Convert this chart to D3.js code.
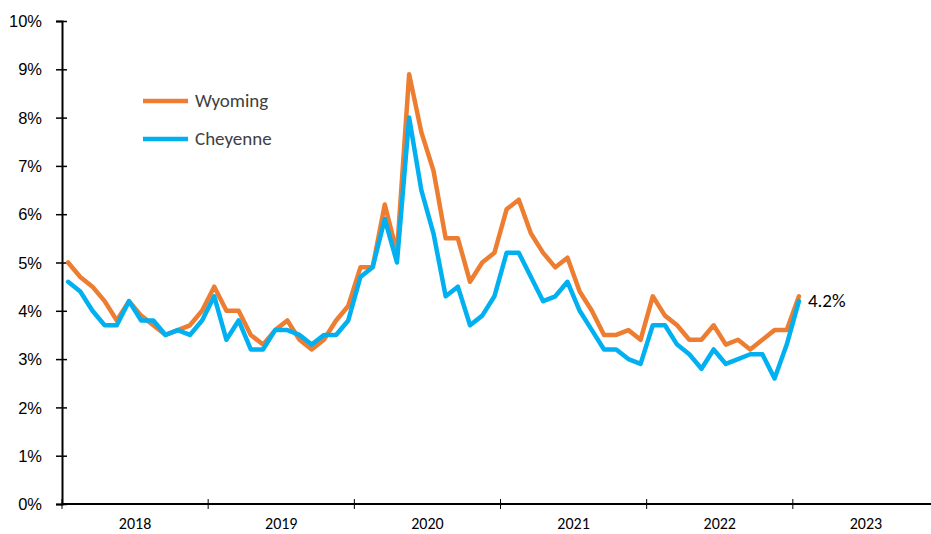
<!DOCTYPE html>
<html>
<head>
<meta charset="utf-8">
<script src="https://cdn.jsdelivr.net/npm/d3@7"></script>
<style>
  body { margin: 0; background: #fff; }
  svg { display: block; font-family: Carlito, Calibri, "Liberation Sans", sans-serif; }
  .axis path, .axis line { stroke: #000; }
  .axis text { fill: #000; font-size: 16.5px; }
</style>
</head>
<body>
<div id="chart"></div>
<script>
// monthly unemployment rate, Jan 2018 - Jan 2023
const years = ['2018', '2019', '2020', '2021', '2022', '2023'];

const wyoming = [
  5.0, 4.7, 4.5, 4.2, 3.8, 4.2, 3.9, 3.7, 3.5, 3.6, 3.7, 4.0,
  4.5, 4.0, 4.0, 3.5, 3.3, 3.6, 3.8, 3.4, 3.2, 3.4, 3.8, 4.1,
  4.9, 4.9, 6.2, 5.2, 8.9, 7.7, 6.9, 5.5, 5.5, 4.6, 5.0, 5.2,
  6.1, 6.3, 5.6, 5.2, 4.9, 5.1, 4.4, 4.0, 3.5, 3.5, 3.6, 3.4,
  4.3, 3.9, 3.7, 3.4, 3.4, 3.7, 3.3, 3.4, 3.2, 3.4, 3.6, 3.6,
  4.3
];

const cheyenne = [
  4.6, 4.4, 4.0, 3.7, 3.7, 4.2, 3.8, 3.8, 3.5, 3.6, 3.5, 3.8,
  4.3, 3.4, 3.8, 3.2, 3.2, 3.6, 3.6, 3.5, 3.3, 3.5, 3.5, 3.8,
  4.7, 4.9, 5.9, 5.0, 8.0, 6.5, 5.6, 4.3, 4.5, 3.7, 3.9, 4.3,
  5.2, 5.2, 4.7, 4.2, 4.3, 4.6, 4.0, 3.6, 3.2, 3.2, 3.0, 2.9,
  3.7, 3.7, 3.3, 3.1, 2.8, 3.2, 2.9, 3.0, 3.1, 3.1, 2.6, 3.3,
  4.2
];

const series = [
  {name: 'Wyoming', values: wyoming, colour: '#ED7D31'},
  {name: 'Cheyenne', values: cheyenne, colour: '#00B0F0'}
];

const width = 931;
const height = 534;
const margin = {top: 21, right: 0, bottom: 30, left: 62};

const svg = d3.select('#chart')
  .append('svg')
  .attr('width', width)
  .attr('height', height);

// month index scale, 6 years shown
const x = d3.scaleLinear()
  .domain([0, years.length * 12])
  .range([margin.left, 939]);

const y = d3.scaleLinear()
  .domain([0, 10])
  .range([height - margin.bottom, margin.top]);

// y axis, ticks cross the axis line
const yAxis = svg.append('g')
  .attr('class', 'axis')
  .attr('transform', `translate(${margin.left},0)`)
  .call(d3.axisLeft(y).ticks(10).tickSize(6).tickPadding(14).tickFormat(d => d + '%'));
yAxis.select('.domain').attr('stroke-width', 2);
yAxis.selectAll('.tick line').attr('x2', 5).attr('x1', -6).attr('stroke-width', 1.5);
yAxis.selectAll('text').attr('dy', '0.34em');

// x axis
const xAxis = svg.append('g')
  .attr('class', 'axis')
  .attr('transform', `translate(0,${y(0)})`);
xAxis.append('line')
  .attr('x1', margin.left)
  .attr('x2', width)
  .attr('stroke', '#000')
  .attr('stroke-width', 2);
xAxis.selectAll('.tick')
  .data(d3.range(0, years.length))
  .enter().append('line')
  .attr('x1', d => x(d * 12))
  .attr('x2', d => x(d * 12))
  .attr('y1', -5)
  .attr('y2', 5)
  .attr('stroke', '#000')
  .attr('stroke-width', 1);
xAxis.selectAll('.year')
  .data(years)
  .enter().append('text')
  .attr('x', (d, i) => x(i * 12 + 6))
  .attr('y', 25)
  .attr('text-anchor', 'middle')
  .style('font-size', '16px')
  .text(d => d);

// lines
const line = d3.line()
  .x((d, i) => x(i + 0.5))
  .y(d => y(d));

svg.selectAll('.series')
  .data(series)
  .enter().append('path')
  .attr('class', 'series')
  .attr('fill', 'none')
  .attr('stroke', d => d.colour)
  .attr('stroke-width', 4.5)
  .attr('stroke-linejoin', 'round')
  .attr('stroke-linecap', 'round')
  .attr('d', d => line(d.values));

// end label
const last = cheyenne.length - 1;
svg.append('text')
  .attr('x', x(last + 0.5) + 9)
  .attr('y', y(cheyenne[last]) + 6)
  .style('font-size', '19px')
  .attr('fill', '#000')
  .text(cheyenne[last].toFixed(1) + '%');

// legend
const legend = svg.selectAll('.legend')
  .data(series)
  .enter().append('g')
  .attr('class', 'legend')
  .attr('transform', (d, i) => `translate(143,${101 + i * 38})`);
legend.append('line')
  .attr('x1', 0)
  .attr('x2', 45)
  .attr('stroke', d => d.colour)
  .attr('stroke-width', 4.5);
legend.append('text')
  .attr('x', 52)
  .attr('y', 6)
  .style('font-size', '19px')
  .attr('fill', '#404040')
  .text(d => d.name);
</script>
</body>
</html>
